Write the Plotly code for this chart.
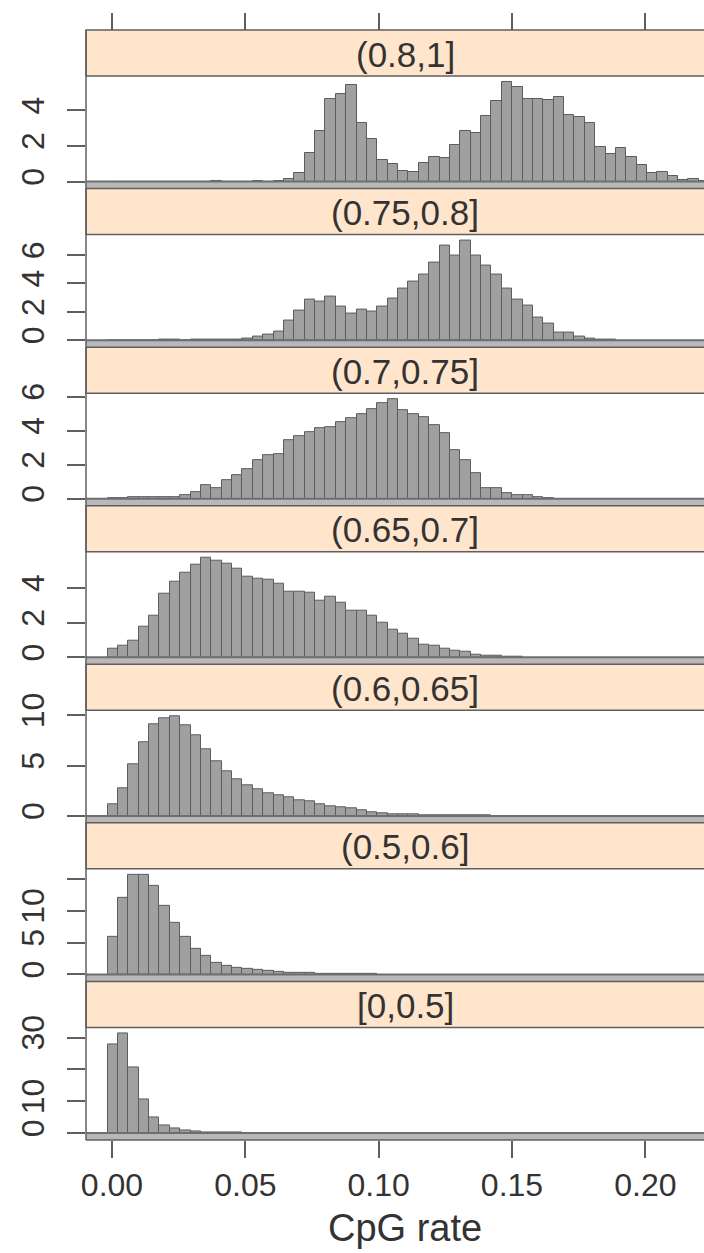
import plotly.graph_objects as go

# ---------------- data (percent of total per CpG-rate bin) ----------------
bin_start = -0.00165
bin_width = 0.00389
n_bins = 58
bin_centers = [round(bin_start + bin_width * (k + 0.5), 5) for k in range(n_bins)]

panel_labels = ["(0.8,1]", "(0.75,0.8]", "(0.7,0.75]", "(0.65,0.7]",
                "(0.6,0.65]", "(0.5,0.6]", "[0,0.5]"]

pct_08_1 = [0, 0, 0, 0, 0, 0, 0, 0, 0, 0, 0.03, 0, 0, 0, 0.03, 0, 0.05,
            0.15, 0.5, 1.6, 2.84, 4.64, 4.93, 5.45, 3.3, 2.4, 1.2, 1.0, 0.58,
            0.52, 1.06, 1.41, 1.35, 2.03, 2.84, 2.74, 3.67, 4.54, 5.6, 5.31,
            4.64, 4.64, 4.6, 4.73, 3.77, 3.63, 3.29, 1.93, 1.55, 1.89, 1.39,
            0.93, 0.48, 0.54, 0.29, 0.1, 0.15, 0.05]
pct_075_08 = [0, 0, 0, 0, 0, 0.02, 0.02, 0, 0.02, 0.03, 0.03, 0.04, 0.07, 0.14,
              0.24, 0.43, 0.62, 1.39, 2.11, 2.83, 2.71, 3.07, 2.35, 1.87, 2.16,
              1.99, 2.35, 2.95, 3.67, 4.15, 4.63, 5.47, 6.67, 5.95, 7.03, 5.95,
              5.23, 4.63, 3.67, 2.83, 2.47, 1.63, 1.15, 0.55, 0.55, 0.24, 0.14,
              0.07, 0.05]
pct_07_075 = [0.04, 0.05, 0.07, 0.08, 0.08, 0.1, 0.1, 0.24, 0.4, 0.81, 0.65,
              1.08, 1.36, 1.73, 2.24, 2.54, 2.6, 3.46, 3.7, 3.9, 4.13, 4.23,
              4.51, 4.72, 4.98, 5.24, 5.59, 5.85, 5.18, 4.98, 4.78, 4.31, 3.86,
              2.85, 2.24, 1.52, 0.65, 0.65, 0.3, 0.2, 0.2, 0.1, 0.04]
pct_065_07 = [0.5, 0.69, 0.95, 1.74, 2.42, 3.66, 4.36, 4.85, 5.35, 5.74, 5.54,
              5.39, 5.11, 4.65, 4.55, 4.46, 4.26, 3.8, 3.76, 3.72, 3.27, 3.47,
              3.13, 2.67, 2.67, 2.38, 2.02, 1.58, 1.35, 1.09, 0.75, 0.69, 0.5,
              0.4, 0.3, 0.16, 0.1, 0.08, 0.04, 0.02]
pct_06_065 = [1.19, 2.73, 5.12, 7.34, 9.11, 9.73, 9.9, 9.04, 8.02, 6.66, 5.46,
              4.44, 3.65, 3.07, 2.63, 2.22, 2.05, 1.81, 1.6, 1.47, 1.13, 0.92,
              0.85, 0.78, 0.51, 0.34, 0.24, 0.17, 0.17, 0.14, 0.1, 0.07, 0.07,
              0.05, 0.05, 0.03, 0.02]
pct_05_06 = [5.87, 12.07, 15.65, 15.65, 13.86, 10.76, 8.15, 5.87, 4.08, 2.99,
             1.9, 1.36, 1.09, 0.82, 0.65, 0.54, 0.43, 0.33, 0.27, 0.22, 0.16,
             0.11, 0.05, 0.04, 0.03, 0.02]
pct_0_05 = [27.8, 31.3, 20.7, 10.6, 4.9, 2.4, 1.4, 0.76, 0.5, 0.3, 0.2, 0.1, 0.05]

panel_values = [pct_08_1, pct_075_08, pct_07_075, pct_065_07,
                pct_06_065, pct_05_06, pct_0_05]

y_tickvals = [[0, 2, 4], [0, 2, 4, 6], [0, 2, 4, 6], [0, 2, 4],
              [0, 5, 10], [0, 5, 10, 15], [0, 10, 20, 30]]
y_ticktext = [["0", "2", "4"], ["0", "2", "4", "6"], ["0", "2", "4", "6"],
              ["0", "2", "4"], ["0", "5", "10"], ["0", "5", "10", ""],
              ["0", "10", "", "30"]]

x_tickvals = [0.00, 0.05, 0.10, 0.15, 0.20]
x_ticktext = ["0.00", "0.05", "0.10", "0.15", "0.20"]
x_title = "CpG rate"

# ---------------- geometry / style ----------------
W, H = 704, 1253
M_L, M_R, M_T, M_B = 86, 0, 30, 113
PLOT_H = H - M_T - M_B
N = len(panel_labels)
BLOCK = PLOT_H / N
STRIP_H = 46
PAD_LO, PAD_HI = 0.07, 0.06
X_RANGE = [-0.00975, 0.222]
CENTER_X = 0.1099          # centre of the (cropped) lattice frame

FONT = "Liberation Sans, Arial, sans-serif"
TXT = "#333333"
LINE = "#5f5f5f"
BAR_FILL = "#a0a0a0"
BAR_EDGE = "#5c5c5c"
STRIP_FILL = "#ffe5cc"
BAND_FILL = "#b8b8b8"


def fy_raw(px):
    return round((H - M_B - px) / PLOT_H, 6)


def fy(px):
    return min(1.0, max(0.0, fy_raw(px)))


fig = go.Figure()
shapes = []
annotations = []
layout = {}

for i, (lab, vals) in enumerate(zip(panel_labels, panel_values)):
    k = i + 1
    yname = "y" if k == 1 else f"y{k}"
    ylay = "yaxis" if k == 1 else f"yaxis{k}"
    top_px = M_T + i * BLOCK
    strip_bot_px = top_px + STRIP_H
    bot_px = top_px + BLOCK
    m = max(vals)
    yr = [-PAD_LO * m, (1 + PAD_HI) * m]

    fig.add_trace(go.Bar(
        x=bin_centers[:len(vals)], y=vals, width=bin_width,
        xaxis="x", yaxis=yname,
        marker=dict(color=BAR_FILL, line=dict(color=BAR_EDGE, width=1)),
        showlegend=False, hoverinfo="x+y",
    ))

    layout[ylay] = dict(
        domain=[fy(bot_px), fy(strip_bot_px)], anchor="x", range=yr,
        tickmode="array", tickvals=y_tickvals[i], ticktext=y_ticktext[i],
        ticks="outside", ticklen=18, tickwidth=1.5, tickcolor=LINE,
        tickangle=-90, ticklabelstandoff=10,
        tickfont=dict(family=FONT, size=32, color=TXT),
        showgrid=False, zeroline=False, showline=False, fixedrange=True,
    )

    # gray band below zero (padding area)
    shapes.append(dict(type="rect", xref="paper", yref=yname,
                       x0=0, x1=1.05, y0=yr[0], y1=0,
                       fillcolor=BAND_FILL, line=dict(width=0), layer="above"))
    shapes.append(dict(type="line", xref="paper", yref=yname,
                       x0=0, x1=1.05, y0=0, y1=0,
                       line=dict(color="#6e6e6e", width=2), layer="above"))
    # strip
    shapes.append(dict(type="rect", xref="paper", yref="paper",
                       x0=0, x1=1.05, y0=fy(strip_bot_px), y1=fy(top_px),
                       fillcolor=STRIP_FILL,
                       line=dict(color=LINE, width=1.5), layer="above"))
    annotations.append(dict(
        text=lab, xref="x", yref="paper", x=CENTER_X,
        y=fy(top_px + STRIP_H / 2 + 1), showarrow=False,
        xanchor="center", yanchor="middle",
        font=dict(family=FONT, size=35, color=TXT)))

# x-axis title, centred on the lattice frame
annotations.append(dict(
    text=x_title, xref="x", yref="paper", x=CENTER_X, y=fy_raw(1228),
    showarrow=False, xanchor="center", yanchor="middle",
    font=dict(family=FONT, size=38, color=TXT)))

# outer frame (left and bottom)
shapes.append(dict(type="line", xref="paper", yref="paper", x0=0, x1=0,
                   y0=0, y1=1, line=dict(color=LINE, width=1.5), layer="above"))
shapes.append(dict(type="line", xref="paper", yref="paper", x0=0, x1=1.05,
                   y0=0, y1=0, line=dict(color=LINE, width=1.5), layer="above"))

# dummy trace to render top tick axis
fig.add_trace(go.Scatter(x=[0.1], y=[0], xaxis="x2", yaxis="y",
                         mode="markers", marker=dict(opacity=0),
                         showlegend=False, hoverinfo="skip"))

fig.update_layout(
    width=W, height=H,
    margin=dict(l=M_L, r=M_R, t=M_T, b=M_B, pad=0),
    paper_bgcolor="white", plot_bgcolor="rgba(0,0,0,0)",
    bargap=0, barmode="overlay",
    xaxis=dict(range=X_RANGE, anchor="y7", domain=[0, 1],
               tickmode="array", tickvals=x_tickvals, ticktext=x_ticktext,
               ticks="outside", ticklen=17, tickwidth=1.5, tickcolor=LINE,
               tickfont=dict(family=FONT, size=32, color=TXT),
               ticklabelstandoff=0,
               showgrid=False, zeroline=False, showline=False, fixedrange=True),
    xaxis2=dict(range=X_RANGE, overlaying="x", side="top", anchor="free",
                position=1, tickmode="array", tickvals=x_tickvals,
                ticks="outside", ticklen=17, tickwidth=1.5, tickcolor=LINE,
                showticklabels=False, showgrid=False, zeroline=False,
                showline=False, fixedrange=True),
    shapes=shapes, annotations=annotations,
    **layout,
)

fig.write_html("out.html")
